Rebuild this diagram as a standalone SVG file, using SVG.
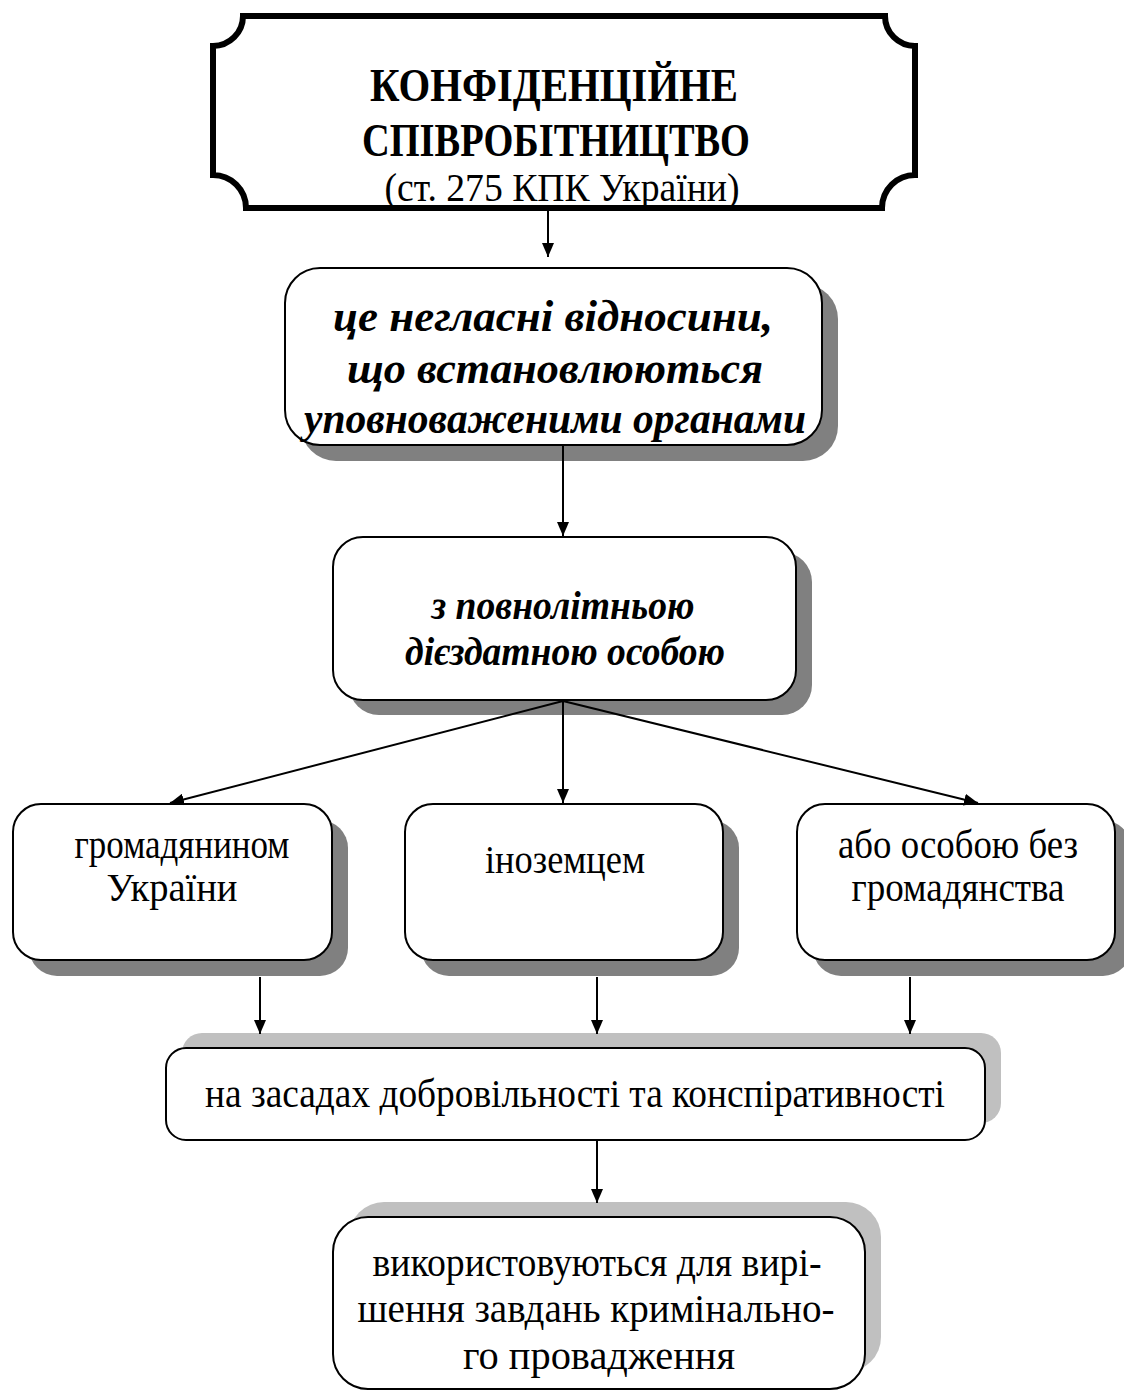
<svg xmlns="http://www.w3.org/2000/svg" width="1124" height="1392" viewBox="0 0 1124 1392">
<defs>
<marker id="ah" viewBox="0 0 14 12" refX="14" refY="6" markerWidth="14" markerHeight="12" markerUnits="userSpaceOnUse" orient="auto">
<path d="M0,0 L14,6 L0,12 z" fill="#000"/>
</marker>
<style>
.box{fill:#fff;stroke:#000;stroke-width:2}
.sh{fill:#808080}
.sh2{fill:#c0c0c0}
.t{font-family:"Liberation Serif","Times New Roman",serif;font-size:40px;fill:#000;text-anchor:middle}
.bi{font-weight:bold;font-style:italic;font-size:44px}
.i3{font-weight:bold;font-style:italic;font-size:41px}
.b{font-weight:bold;font-size:47px}
.c{stroke:#000;stroke-width:2;fill:none;marker-end:url(#ah)}
</style>
</defs>
<rect width="1124" height="1392" fill="#fff"/>
<g id="n1">
<path d="M243,16 L885,16 A30,30 0 0 0 915,46 L915,175 A33,33 0 0 0 882,208 L246,208 A33,33 0 0 0 213,175 L213,46 A30,30 0 0 0 243,16 Z" fill="#fff" stroke="#000" stroke-width="6"/>
<text class="t b" x="554" y="101" textLength="368" lengthAdjust="spacingAndGlyphs">КОНФІДЕНЦІЙНЕ</text>
<text class="t b" x="556" y="156" textLength="388" lengthAdjust="spacingAndGlyphs">СПІВРОБІТНИЦТВО</text>
<text class="t" x="562" y="201" font-size="43" textLength="355" lengthAdjust="spacingAndGlyphs">(ст. 275 КПК України)</text>
</g>
<g id="n2">
<rect class="sh" x="301" y="284" width="537" height="177" rx="35"/>
<rect class="box" x="285" y="268" width="537" height="177" rx="35"/>
<text class="t bi" x="553" y="331" textLength="440" lengthAdjust="spacingAndGlyphs">це негласні відносини,</text>
<text class="t bi" x="555" y="383" textLength="416" lengthAdjust="spacingAndGlyphs">що встановлюються</text>
<text class="t bi" x="555" y="433" textLength="502" lengthAdjust="spacingAndGlyphs">уповноваженими органами</text>
</g>
<g id="n3">
<rect class="sh" x="349" y="552" width="463" height="163" rx="30"/>
<rect class="box" x="333" y="537" width="463" height="163" rx="30"/>
<text class="t i3" x="563" y="619" textLength="263" lengthAdjust="spacingAndGlyphs">з повнолітньою</text>
<text class="t i3" x="565" y="665" textLength="320" lengthAdjust="spacingAndGlyphs">дієздатною особою</text>
</g>
<g id="n4">
<rect class="sh" x="29" y="820" width="319" height="156" rx="28"/>
<rect class="box" x="13" y="804" width="319" height="156" rx="28"/>
<text class="t" x="182" y="858" textLength="215" lengthAdjust="spacingAndGlyphs">громадянином</text>
<text class="t" x="172" y="901" textLength="131" lengthAdjust="spacingAndGlyphs">України</text>
</g>
<g id="n5">
<rect class="sh" x="421" y="820" width="318" height="156" rx="28"/>
<rect class="box" x="405" y="804" width="318" height="156" rx="28"/>
<text class="t" x="565" y="873" textLength="160" lengthAdjust="spacingAndGlyphs">іноземцем</text>
</g>
<g id="n6">
<rect class="sh" x="813" y="820" width="318" height="156" rx="28"/>
<rect class="box" x="797" y="804" width="318" height="156" rx="28"/>
<text class="t" x="958" y="858" textLength="240" lengthAdjust="spacingAndGlyphs">або особою без</text>
<text class="t" x="958" y="901" textLength="213" lengthAdjust="spacingAndGlyphs">громадянства</text>
</g>
<g id="n7">
<rect class="sh2" x="182" y="1033" width="819" height="90" rx="20"/>
<rect class="box" x="166" y="1048" width="819" height="92" rx="20"/>
<text class="t" x="575" y="1107" textLength="740" lengthAdjust="spacingAndGlyphs">на засадах добровільності та конспіративності</text>
</g>
<g id="n8">
<rect class="sh2" x="349" y="1202" width="532" height="170" rx="35"/>
<rect class="box" x="333" y="1217" width="532" height="172" rx="35"/>
<text class="t" x="597" y="1276" textLength="449" lengthAdjust="spacingAndGlyphs">використовуються для вирі-</text>
<text class="t" x="596" y="1322" textLength="477" lengthAdjust="spacingAndGlyphs">шення завдань кримінально-</text>
<text class="t" x="599" y="1369" textLength="272" lengthAdjust="spacingAndGlyphs">го провадження</text>
</g>
<g id="connectors">
<line class="c" x1="548" y1="211" x2="548" y2="257"/>
<line class="c" x1="563" y1="446" x2="563" y2="536"/>
<line class="c" x1="563" y1="701" x2="170" y2="803"/>
<line class="c" x1="563" y1="701" x2="563" y2="803"/>
<line class="c" x1="563" y1="701" x2="978" y2="803"/>
<line class="c" x1="260" y1="977" x2="260" y2="1034"/>
<line class="c" x1="597" y1="977" x2="597" y2="1034"/>
<line class="c" x1="910" y1="977" x2="910" y2="1034"/>
<line class="c" x1="597" y1="1141" x2="597" y2="1203"/>
</g>
</svg>
